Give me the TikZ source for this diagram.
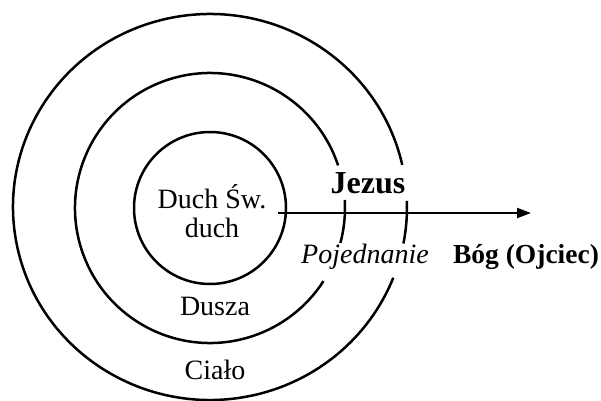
\documentclass[tikz,border=0pt]{standalone}
\usepackage{fontspec}
\setmainfont{Liberation Serif}
\usetikzlibrary{arrows.meta}
\begin{document}
\begin{tikzpicture}[x=1pt,y=1pt,
  ring/.style={line width=2.5pt},
  lbl/.style={font=\fontsize{28}{31}\selectfont, inner sep=0pt, anchor=base},
  boldlbl/.style={lbl, font=\fontsize{27.5}{31}\selectfont\bfseries},
  itlbl/.style={lbl, font=\fontsize{28}{31}\selectfont\itshape},
  biglbl/.style={lbl, font=\fontsize{32}{36}\selectfont\bfseries},
  link/.style={line width=2pt, -{Triangle[length=14pt,width=10pt]}}]
\useasboundingbox (0,0) rectangle (601,400);
\coordinate (ci) at (210,192);
\coordinate (cm) at (210,192);
\coordinate (co) at (210,193);
% inner circle
\draw[ring] (ci) circle[radius=76];
% middle circle with gap
\draw[ring] ([shift={(18.4:135)}]cm) arc[start angle=18.4, end angle=327.2, radius=135];
\draw[ring] ([shift={(3.4:135)}]cm) arc[start angle=3.4, end angle=-15, radius=135];
% outer circle with gap
\draw[ring] ([shift={(12.6:197 and 193)}]co) arc[start angle=12.6, end angle=338.5, x radius=197, y radius=193];
\draw[ring] ([shift={(1.8:197 and 193)}]co) arc[start angle=1.8, end angle=-10.9, x radius=197, y radius=193];
% arrow
\coordinate (a0) at (278,187);
\coordinate (a1) at (531,187);
\draw[link] (a0) -- (a1);
% labels
\node[lbl] (hs) at (212,192) {Duch Św.};
\node[lbl] (duch) at (212,163) {duch};
\node[lbl] (dusza) at (215,85) {Dusza};
\node[lbl] (cialo) at (215,21) {Ciało};
\node[biglbl] (jezus) at (368,207) {Jezus};
\node[itlbl] (poj) at (365,137) {Pojednanie};
\node[boldlbl] (bog) at (526,137) {Bóg (Ojciec)};
\end{tikzpicture}
\end{document}
